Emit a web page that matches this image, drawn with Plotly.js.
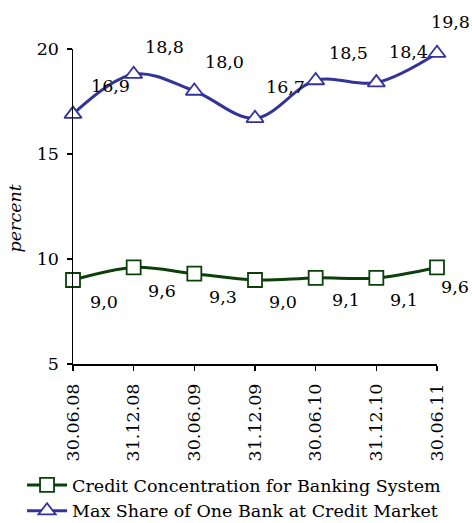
<!DOCTYPE html>
<html>
<head>
<meta charset="utf-8">
<script src="https://cdn.plot.ly/plotly-3.0.1.min.js"></script>
<style>html,body{margin:0;padding:0;background:#fff;}#chart{width:472px;height:523px;}</style>
</head>
<body>
<div id="chart"></div>
<script>
var categories = ["30.06.08","31.12.08","30.06.09","31.12.09","30.06.10","31.12.10","30.06.11"];
var creditConcentration = [9.0, 9.6, 9.3, 9.0, 9.1, 9.1, 9.6];
var maxShareOneBank = [16.9, 18.8, 18.0, 16.7, 18.5, 18.4, 19.8];
var seriesNames = ["Credit Concentration for Banking System", "Max Share of One Bank at Credit Market"];
var yTicks = [5, 10, 15, 20];

var FONT = "DejaVu Serif";
var FS = 17.5;
var green = "#0b400b";
var blue = "#333399";

// label offsets (styling only)
var blueOff = [[37,-28],[31,-27],[30,-29],[30,-31],[33,-28],[32,-31],[13,-31]];
var greenOff = [[31,22],[28,24],[29,23],[28,22],[30,22],[28,22],[18,20]];

function fmt(v){ return v.toFixed(1).replace('.', ','); }

var traces = [
  {
    x: categories, y: creditConcentration, name: seriesNames[0], type: 'scatter', mode: 'lines+markers',
    line: {color: green, width: 3, shape: 'spline', smoothing: 1},
    marker: {symbol: 'square', size: 14, color: '#ffffff', line: {color: green, width: 1.8}},
    cliponaxis: false
  },
  {
    x: categories, y: maxShareOneBank, name: seriesNames[1], type: 'scatter', mode: 'lines+markers',
    line: {color: blue, width: 3, shape: 'spline', smoothing: 1},
    marker: {symbol: 'triangle-up', size: 15, color: '#ffffff', line: {color: blue, width: 1.8}},
    cliponaxis: false
  }
];

var annotations = [];
categories.forEach(function(c, i){
  annotations.push({x: c, y: maxShareOneBank[i], xref: 'x', yref: 'y', text: fmt(maxShareOneBank[i]),
    showarrow: false, xshift: blueOff[i][0], yshift: -blueOff[i][1], font: {family: FONT, size: FS, color: '#000'}});
  annotations.push({x: c, y: creditConcentration[i], xref: 'x', yref: 'y', text: fmt(creditConcentration[i]),
    showarrow: false, xshift: greenOff[i][0], yshift: -greenOff[i][1], font: {family: FONT, size: FS, color: '#000'}});
});
annotations.push({x: 0, y: 0.5, xref: 'paper', yref: 'paper', xshift: -71, yshift: -12, textangle: -90,
  text: 'percent', showarrow: false, font: {family: FONT, size: FS, color: '#000', style: 'italic'}});

var layout = {
  width: 472, height: 523,
  margin: {l: 73, r: 35, t: 49, b: 159, autoexpand: false},
  paper_bgcolor: '#fff', plot_bgcolor: '#fff',
  font: {family: FONT, size: FS, color: '#000'},
  showlegend: true,
  legend: {x: -0.14, y: -0.327, xanchor: 'left', yanchor: 'top', orientation: 'v',
    font: {family: FONT, size: FS, color: '#000'}, itemwidth: 40, tracegroupgap: 0, bgcolor: 'rgba(0,0,0,0)'},
  xaxis: {type: 'category', range: [0, 6], autorange: false, automargin: false, showgrid: false, zeroline: false,
    showline: true, linecolor: '#000', linewidth: 1.5, ticks: 'outside', ticklen: 5, tickwidth: 1.5, tickcolor: '#000',
    tickangle: -90, ticklabelstandoff: 6, tickfont: {family: FONT, size: FS, color: '#000'}},
  yaxis: {range: [5, 20], autorange: false, automargin: false, tickvals: yTicks, ticktext: yTicks.map(String), showgrid: false, zeroline: false,
    showline: true, linecolor: '#000', linewidth: 1.5, ticks: 'outside', ticklen: 5, tickwidth: 1.5, tickcolor: '#000',
    ticklabelstandoff: 4, tickfont: {family: FONT, size: FS, color: '#000'}},
  annotations: annotations
};

Plotly.newPlot('chart', traces, layout, {displayModeBar: false, staticPlot: true});
</script>
</body>
</html>
